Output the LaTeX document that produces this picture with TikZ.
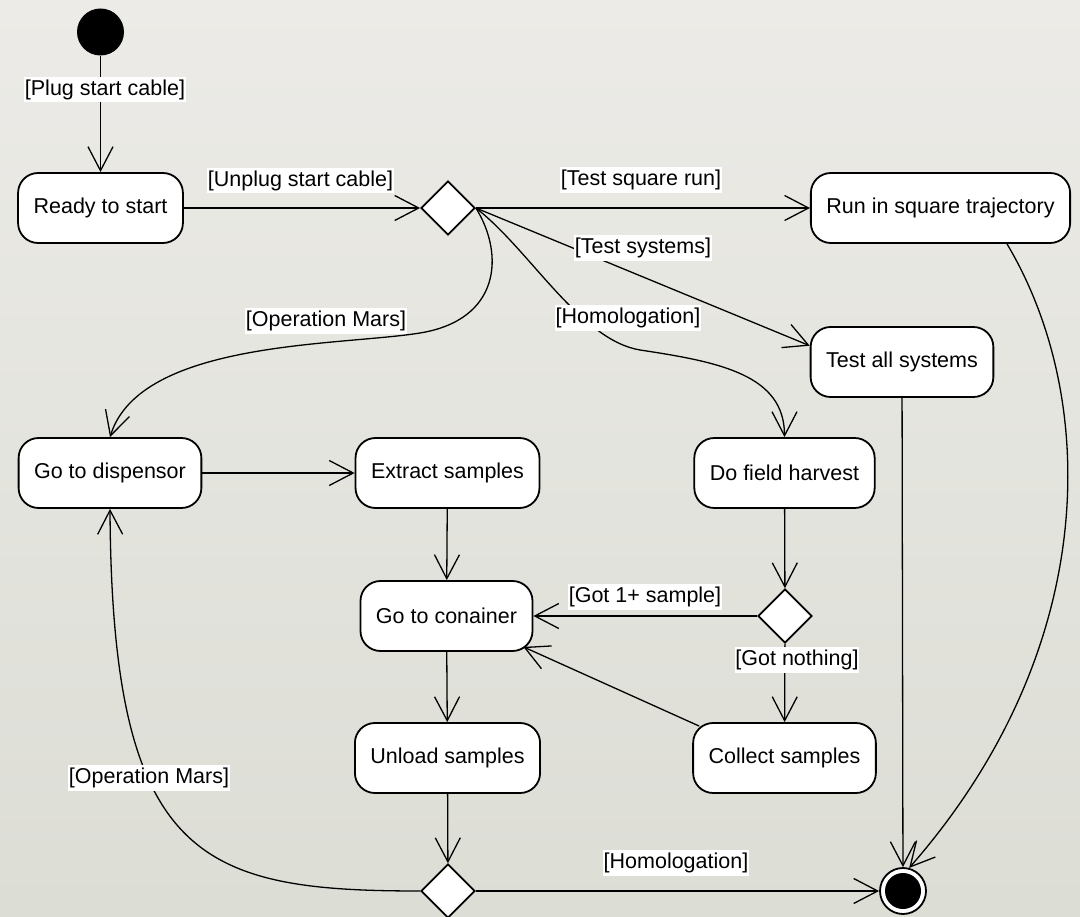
\documentclass[tikz,border=0pt]{standalone}
\usepackage{fontspec}
\setmainfont{Liberation Sans}
\usetikzlibrary{arrows.meta,shapes.geometric,calc}
\definecolor{bgtop}{RGB}{236,235,231}
\definecolor{bgbot}{RGB}{220,221,213}
\begin{document}
\begin{tikzpicture}[x=1pt,y=-1pt,
  every node/.style={font=\fontsize{21.5pt}{25pt}\selectfont},
  state/.style={draw, line width=1.8pt, fill=white, rounded corners=20pt,
    minimum height=70pt, inner xsep=15.5pt, inner ysep=0pt},
  choice/.style={diamond, draw, line width=1.8pt, fill=white,
    minimum width=54pt, minimum height=54pt, inner sep=0pt},
  flow/.style={line width=1.3pt, -{Straight Barb[length=24pt,width=25pt]}},
  lab/.style={fill=white, inner xsep=0.5pt, inner ysep=2.5pt}]
\path[use as bounding box, top color=bgtop, bottom color=bgbot] (0,0) rectangle (1080,917);

% states
\node[circle, fill=black, minimum size=47pt, inner sep=0pt] (init) at (100.5,32) {};
\node[state] (ready) at (100.5,208) {Ready to start};
\node[choice] (d1) at (448,208) {};
\node[state] (runsq) at (940.5,208) {Run in square trajectory};
\node[state] (test) at (902,362) {Test all systems};
\node[state] (disp) at (110,473) {Go to dispensor};
\node[state] (extract) at (447.5,473) {Extract samples};
\node[state] (dfh) at (784.5,473) {Do field harvest};
\node[state] (cont) at (446.5,616) {Go to conainer};
\node[choice] (d2) at (785,616) {};
\node[state] (unload) at (447.5,758) {Unload samples};
\node[state] (collect) at (784.5,758) {Collect samples};
\node[choice] (d3) at (448,891) {};
\node[circle, draw, line width=1.8pt, fill=white, minimum size=46pt, inner sep=0pt] (final) at (903,891) {};
\node[circle, fill=black, minimum size=36pt, inner sep=0pt] (finaldot) at (final.center) {};

% connectors
\draw[flow] (init) -- (ready);
\draw[flow] (ready) -- (d1);
\draw[flow] (d1) -- (runsq);
\draw[flow] (d1.east) -- (test.170);
\draw[flow] (d1.east) .. controls (530,250) and (580,340) .. (640,350)
  .. controls (720,362) and (784.5,375) .. (dfh.north);
\draw[flow] (d1.east) .. controls (505,255) and (500,320) .. (420,333)
  .. controls (340,346) and (140,340) .. (disp.north);
\draw[flow] (disp) -- (extract);
\draw[flow] (extract) -- (cont);
\draw[flow] (dfh) -- (d2);
\draw[flow] (d2) -- (cont);
\draw[flow] (d2) -- (collect);
\draw[flow] ($(collect.north west)+(7,4)$) -- ($(cont.south east)+(-10,-5)$);
\draw[flow] (cont) -- (unload);
\draw[flow] (unload) -- (d3);
\draw[flow] (d3) -- (final);
\draw[flow] (d3.west) .. controls (200,891) and (112,860) .. (disp.south);
\draw[flow] ($(runsq.south)+(66.5,0)$) .. controls (1100,400) and (1100,650) .. (final.75);
\draw[flow] (test) -- (final);

% guard labels
\node[lab] (l1) at (105,89.5) {[Plug start cable]};
\node[lab] (l2) at (300.5,180.5) {[Unplug start cable]};
\node[lab] (l3) at (641,180) {[Test square run]};
\node[lab] (l4) at (643,248) {[Test systems]};
\node[lab] (l5) at (628,318) {[Homologation]};
\node[lab] (l6) at (326,321) {[Operation Mars]};
\node[lab] (l7) at (645,597) {[Got 1+ sample]};
\node[lab] (l8) at (797,660) {[Got nothing]};
\node[lab] (l9) at (149,778) {[Operation Mars]};
\node[lab] (l10) at (676,863) {[Homologation]};
\end{tikzpicture}
\end{document}
